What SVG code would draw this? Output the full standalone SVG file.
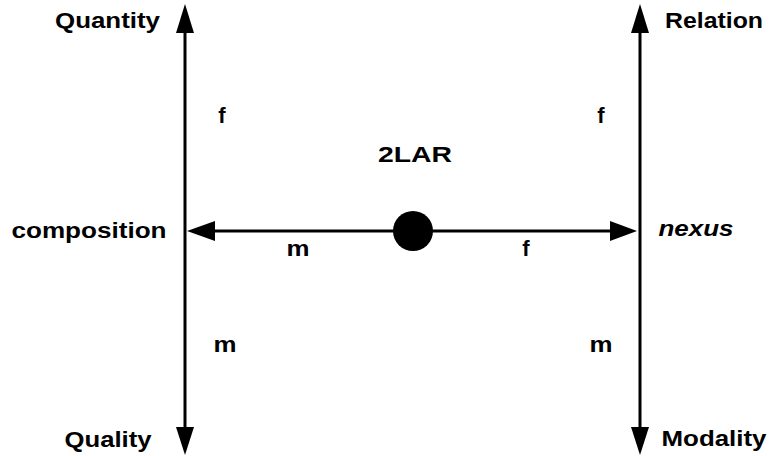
<svg xmlns="http://www.w3.org/2000/svg" width="771" height="456" viewBox="0 0 771 456">
<style>
.t{font-family:"Liberation Sans",Arial,sans-serif;font-weight:bold;font-size:22px;fill:#000;text-anchor:middle}
.i{font-style:italic}
.ln{stroke:#000;stroke-width:3;fill:none}
.hd{fill:#000}
</style>
<rect width="771" height="456" fill="#fff"/>
<g id="connectors">
<line class="ln" x1="185" y1="28" x2="185" y2="430"/>
<polygon class="hd" points="185,4 176,33 194,33"/>
<polygon class="hd" points="185,455 176,427 194,427"/>
<line class="ln" x1="640" y1="28" x2="640" y2="430"/>
<polygon class="hd" points="640,4 631,33 649,33"/>
<polygon class="hd" points="640,455 631,427 649,427"/>
<line class="ln" x1="212" y1="231" x2="613" y2="231"/>
<polygon class="hd" points="187,231 215,221 215,241"/>
<polygon class="hd" points="637,231 610,221 610,241"/>
</g>
<g id="center">
<circle cx="413" cy="231" r="20" fill="#000"/>
<text class="t" x="415" y="162" textLength="74" lengthAdjust="spacingAndGlyphs">2LAR</text>
</g>
<g id="quantity"><text class="t" x="107.5" y="28" textLength="105" lengthAdjust="spacingAndGlyphs">Quantity</text></g>
<g id="composition"><text class="t" x="89" y="238" textLength="155" lengthAdjust="spacingAndGlyphs">composition</text></g>
<g id="quality"><text class="t" x="108" y="447" textLength="87" lengthAdjust="spacingAndGlyphs">Quality</text></g>
<g id="relation"><text class="t" x="714" y="28" textLength="98" lengthAdjust="spacingAndGlyphs">Relation</text></g>
<g id="nexus"><text class="t i" x="696" y="236" textLength="75" lengthAdjust="spacingAndGlyphs">nexus</text></g>
<g id="modality"><text class="t" x="714" y="446" textLength="105" lengthAdjust="spacingAndGlyphs">Modality</text></g>
<g id="labels">
<text class="t" x="222" y="123">f</text>
<text class="t" x="601" y="123">f</text>
<text class="t" x="298" y="256" textLength="23" lengthAdjust="spacingAndGlyphs">m</text>
<text class="t" x="526" y="256">f</text>
<text class="t" x="225" y="352" textLength="23" lengthAdjust="spacingAndGlyphs">m</text>
<text class="t" x="601" y="352" textLength="23" lengthAdjust="spacingAndGlyphs">m</text>
</g>
</svg>
